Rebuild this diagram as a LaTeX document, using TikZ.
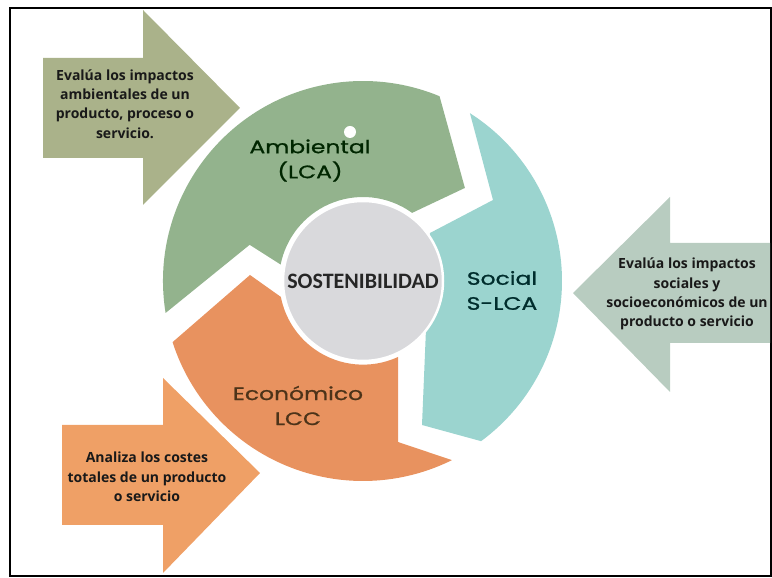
\documentclass[tikz,border=0pt]{standalone}
\usepackage{fontspec}
\setmainfont{Carlito}
\newfontfamily\cyclefont[FakeStretch=1.3, FakeBold=1]{Poppins}
\newfontfamily\infofont{Open Sans}

\definecolor{ambgreen}{HTML}{93B38D}
\definecolor{socteal}{HTML}{9BD4CF}
\definecolor{ecoorange}{HTML}{E8925F}
\definecolor{hubgrey}{HTML}{D9D9DC}
\definecolor{ambarrow}{HTML}{AAB28A}
\definecolor{socarrow}{HTML}{B8CCC0}
\definecolor{ecoarrow}{HTML}{EFA066}

\begin{document}
\begin{tikzpicture}[x=1pt, y=1pt,
					infotext/.style={align=center,
					font=\infofont\bfseries\fontsize{14}{19.3}\selectfont,
					text=black!90},
					cyclelabel/.style={align=center,
					font=\cyclefont\fontsize{18}{25}\selectfont},
					hubnode/.style={circle,
					inner sep=0pt,
					minimum size=160pt,
					fill=hubgrey,
					draw=white,
					line width=2.5pt,
					font=\bfseries\fontsize{22}{24}\selectfont,
					text=black!85}
					]

\useasboundingbox (0,0) rectangle (772,578);

% frame
\draw[line width=1.5pt] (10,2) rectangle (771,570);

% block arrows
\fill[ambarrow] (43,520) -- (143,520) -- (143,568) -- (240,470) -- (143,373) -- (143,420) -- (43,420) -- cycle;
\fill[socarrow] (770,335) -- (670,335) -- (670,381) -- (573,285) -- (670,186) -- (670,235) -- (770,235) -- cycle;
\fill[ecoarrow] (62,153) -- (163,153) -- (163,200) -- (260,105) -- (163,5) -- (163,53) -- (62,53) -- cycle;

% cycle segments
\begin{scope}[shift={(363,297)}]
\fill[ambgreen] (189.2:200pt) arc[start angle=189.2, end angle=67.5, radius=200pt]
	-- (42.4:138pt) -- (54.2:84pt) arc[start angle=54.2, end angle=168.7, radius=84pt]
	-- (162.3:119pt) -- cycle;
\fill[socteal] (57.5:199pt) arc[start angle=57.5, end angle=-53.6, radius=199pt]
	-- (59,-144) -- (67,48) -- (130,81) -- cycle;
\fill[ecoorange] (197.8:200pt) arc[start angle=197.8, end angle=296.4, radius=200pt]
	-- (35,-161) -- (35,-76) arc[start angle=294.7, end angle=191, radius=83.7pt]
	-- (-113,6) -- cycle;
\end{scope}
\fill[white] (350,446) circle (6pt);

% centre
\node[hubnode] (hub) at (363,297) {SOSTENIBILIDAD};

% segment labels
\node[cyclelabel, text=green!15!black] (Amb) at (310,417.5) {Ambiental\\(LCA)};
\node[cyclelabel, text=teal!35!black] (Soc) at (502,287.5) {Social\\S-LCA};
\node[cyclelabel, text=brown!40!black] (Eco) at (298,172.5) {Económico\\LCC};

% arrow texts
\node[infotext] (AmbInfo) at (125,474) {Evalúa los impactos\\ambientales de un\\producto, proceso o\\servicio.};
\node[infotext] (SocInfo) at (687,284) {Evalúa los impactos\\sociales y\\socioeconómicos de un\\producto o servicio};
\node[infotext] (EcoInfo) at (147,101) {Analiza los costes\\totales de un producto\\o servicio};

\end{tikzpicture}
\end{document}
